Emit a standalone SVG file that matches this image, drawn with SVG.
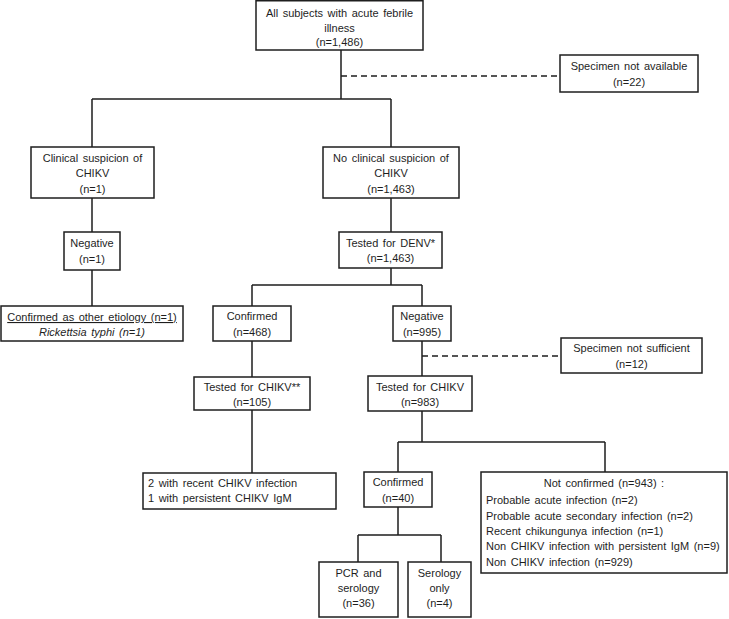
<svg xmlns="http://www.w3.org/2000/svg" width="729" height="619" viewBox="0 0 729 619">
<style>
.b{fill:#fff;stroke:#1e1e1e;stroke-width:1.5}
.l{fill:none;stroke:#1e1e1e;stroke-width:1.5}
.d{fill:none;stroke:#1e1e1e;stroke-width:1.5;stroke-dasharray:6 4}
text{font-family:"Liberation Sans",Arial,sans-serif;font-size:11px;fill:#1e1e1e;word-spacing:1.5px}
.c{text-anchor:middle}
</style>
<rect width="729" height="619" fill="#fff"/>
<g id="connectors">
<path class="l" d="M341 50V99M92 99H391M92 99V147M391 99V147M92 198V232M391 198V232M92 270V306M391 268V285M252 285H422M252 285V306M422 285V306M252 341V377M422 341V376M252 410V473M422 411V442M398 442H605M398 442V472M605 442V472M398 507V535M358 535H441M358 535V562M441 535V562"/>
<path class="d" d="M341 76H560M422 356H561"/>
</g>
<g id="n_all"><rect class="b" x="256" y="0.75" width="167" height="49.25"/>
<text class="c" x="339.5" y="17">All subjects with acute febrile</text>
<text class="c" x="339.5" y="32">illness</text>
<text class="c" x="339.5" y="46">(n=1,486)</text></g>
<g id="n_na"><rect class="b" x="560" y="55" width="138" height="37"/>
<text class="c" x="629" y="70">Specimen not available</text>
<text class="c" x="629" y="86">(n=22)</text></g>
<g id="n_clin"><rect class="b" x="31" y="147" width="123" height="51"/>
<text class="c" x="92.5" y="162">Clinical suspicion of</text>
<text class="c" x="92.5" y="177">CHIKV</text>
<text class="c" x="92.5" y="193">(n=1)</text></g>
<g id="n_noclin"><rect class="b" x="323" y="147" width="136" height="51"/>
<text class="c" x="391" y="162">No clinical suspicion of</text>
<text class="c" x="391" y="177">CHIKV</text>
<text class="c" x="391" y="193">(n=1,463)</text></g>
<g id="n_neg1"><rect class="b" x="64" y="232" width="56" height="38"/>
<text class="c" x="92" y="247">Negative</text>
<text class="c" x="92" y="263">(n=1)</text></g>
<g id="n_denv"><rect class="b" x="339" y="232" width="103" height="36"/>
<text class="c" x="390.5" y="247">Tested for DENV*</text>
<text class="c" x="390.5" y="262">(n=1,463)</text></g>
<g id="n_etio"><rect class="b" x="1" y="306" width="182" height="35"/>
<text class="c" x="92" y="321" text-decoration="underline">Confirmed as other etiology (n=1)</text>
<text class="c" x="92" y="336" font-style="italic">Rickettsia typhi (n=1)</text></g>
<g id="n_conf468"><rect class="b" x="213" y="306" width="78" height="35"/>
<text class="c" x="252" y="320">Confirmed</text>
<text class="c" x="252" y="336">(n=468)</text></g>
<g id="n_neg995"><rect class="b" x="393" y="306" width="58" height="35"/>
<text class="c" x="422" y="320">Negative</text>
<text class="c" x="422" y="336">(n=995)</text></g>
<g id="n_ns"><rect class="b" x="561" y="338" width="141" height="35"/>
<text class="c" x="631.5" y="352">Specimen not sufficient</text>
<text class="c" x="631.5" y="368">(n=12)</text></g>
<g id="n_t105"><rect class="b" x="194" y="377" width="116" height="33"/>
<text class="c" x="252" y="391">Tested for CHIKV**</text>
<text class="c" x="252" y="406">(n=105)</text></g>
<g id="n_t983"><rect class="b" x="368" y="376" width="104" height="35"/>
<text class="c" x="420" y="391">Tested for CHIKV</text>
<text class="c" x="420" y="406">(n=983)</text></g>
<g id="n_recent"><rect class="b" x="143" y="473" width="193" height="36"/>
<text x="148" y="487">2  with recent CHIKV infection</text>
<text x="148" y="502">1  with persistent  CHIKV IgM</text></g>
<g id="n_conf40"><rect class="b" x="364" y="472" width="68" height="35"/>
<text class="c" x="398" y="486">Confirmed</text>
<text class="c" x="398" y="502">(n=40)</text></g>
<g id="n_notconf"><rect class="b" x="481" y="472" width="246" height="101"/>
<text class="c" x="604" y="487">Not confirmed (n=943) :</text>
<text x="486" y="504">Probable acute infection (n=2)</text>
<text x="486" y="520">Probable acute secondary infection (n=2)</text>
<text x="486" y="535">Recent chikungunya infection (n=1)</text>
<text x="486" y="550">Non CHIKV infection with persistent IgM (n=9)</text>
<text x="486" y="566">Non CHIKV infection (n=929)</text></g>
<g id="n_pcr"><rect class="b" x="319" y="562" width="79" height="55"/>
<text class="c" x="358.5" y="577">PCR and</text>
<text class="c" x="358.5" y="592">serology</text>
<text class="c" x="358.5" y="607">(n=36)</text></g>
<g id="n_sero"><rect class="b" x="408" y="562" width="63" height="55"/>
<text class="c" x="439.5" y="577">Serology</text>
<text class="c" x="439.5" y="592">only</text>
<text class="c" x="439.5" y="607">(n=4)</text></g>
</svg>
